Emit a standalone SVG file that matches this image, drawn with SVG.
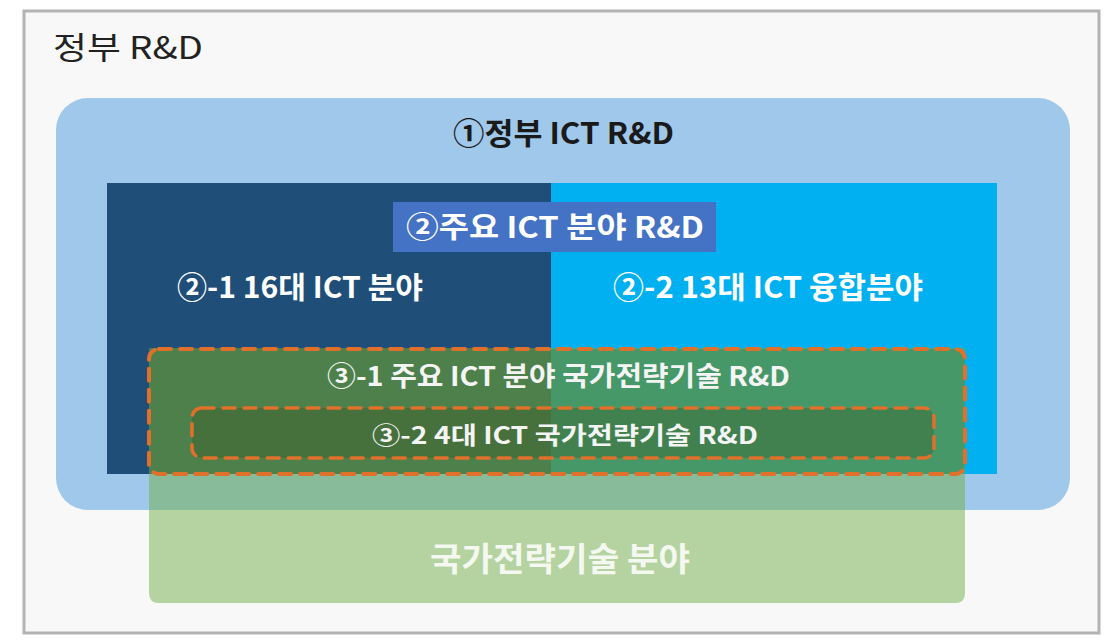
<svg xmlns="http://www.w3.org/2000/svg" width="1110" height="641" viewBox="0 0 1110 641">
<style>
text{font-family:"Noto Sans CJK KR","Noto Sans",sans-serif;}
.w{fill:#ffffff;font-weight:bold;}
.dash{fill:none;stroke:#e0702a;stroke-linecap:round;}
</style>
<rect width="1110" height="641" fill="#ffffff"/>
<g id="frame">
<rect x="24" y="11" width="1075" height="622" fill="#f8f8f8" stroke="#b3b3b3" stroke-width="3"/>
<text x="53" y="59" font-size="31" fill="#222222" textLength="150" lengthAdjust="spacingAndGlyphs">정부 R&amp;D</text>
</g>
<g id="gov-ict">
<rect x="56" y="98" width="1014" height="412" rx="32" fill="#9fc8ea"/>
<text class="w" x="453" y="144" font-size="30" style="fill:#1a1a1a" textLength="221" lengthAdjust="spacingAndGlyphs">①정부 ICT R&amp;D</text>
</g>
<g id="ict16">
<rect x="107" y="183" width="444" height="291" fill="#1f4e79"/>
<text class="w" x="177" y="298" font-size="30" textLength="246" lengthAdjust="spacingAndGlyphs">②-1 16대 ICT 분야</text>
</g>
<g id="ict13">
<rect x="551" y="183" width="446" height="291" fill="#00b0f0"/>
<text class="w" x="613" y="298" font-size="30" textLength="310" lengthAdjust="spacingAndGlyphs">②-2 13대 ICT 융합분야</text>
</g>
<g id="major-ict">
<rect x="393" y="202" width="323" height="50" fill="#4472c4"/>
<text class="w" x="406" y="238" font-size="29" textLength="298" lengthAdjust="spacingAndGlyphs">②주요 ICT 분야 R&amp;D</text>
</g>
<g id="nat-field">
<path d="M149 348 H965 V593 Q965 603 955 603 H159 Q149 603 149 593 Z" fill="#70ad47" fill-opacity="0.5"/>
<text class="w" x="430" y="571" font-size="33" style="fill:#f4f8f0" textLength="260" lengthAdjust="spacingAndGlyphs">국가전략기술 분야</text>
</g>
<g id="nat-ict">
<rect x="149" y="349" width="816" height="125" rx="10" fill="#548235" fill-opacity="0.5"/>
<rect x="149" y="349" width="816" height="125" rx="10" class="dash" stroke-width="4" stroke-dasharray="12 9"/>
<text class="w" x="327" y="386" font-size="27" style="fill:#f4f4f4" textLength="463" lengthAdjust="spacingAndGlyphs">③-1 주요 ICT 분야 국가전략기술 R&amp;D</text>
</g>
<g id="nat-ict4">
<rect x="192" y="408" width="742" height="50" rx="10" fill="#385723" fill-opacity="0.35"/>
<rect x="192" y="408" width="742" height="50" rx="10" class="dash" stroke-width="3.5" stroke-dasharray="12 9"/>
<text class="w" x="372" y="444" font-size="24" style="fill:#f4f4f4" textLength="386" lengthAdjust="spacingAndGlyphs">③-2 4대 ICT 국가전략기술 R&amp;D</text>
</g>
<g id="connectors"></g>
</svg>
